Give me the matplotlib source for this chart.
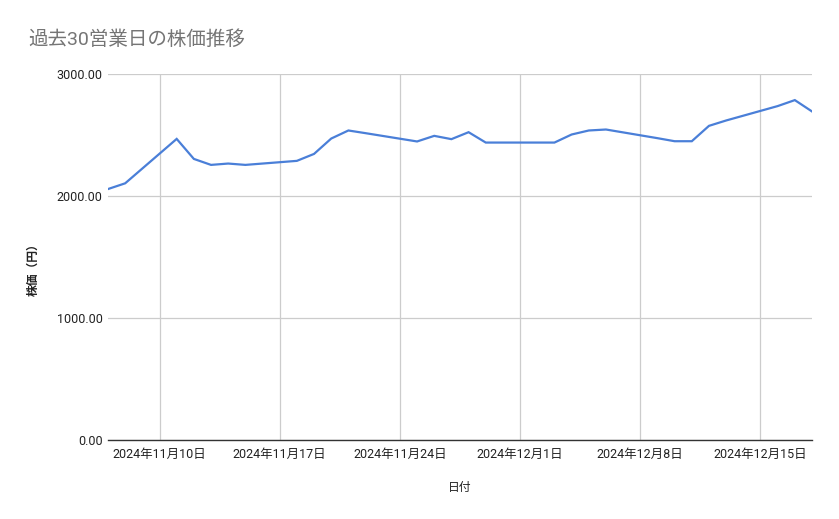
import matplotlib
matplotlib.use("Agg")
import matplotlib.pyplot as plt
import matplotlib.dates as mdates
from matplotlib.ticker import FuncFormatter, FixedLocator
import datetime as dt

plt.rcParams['font.family'] = ['Roboto', 'Noto Sans CJK JP', 'DejaVu Sans']

dates = ["2024-11-07", "2024-11-08", "2024-11-11", "2024-11-12", "2024-11-13",
         "2024-11-14", "2024-11-15", "2024-11-18", "2024-11-19", "2024-11-20",
         "2024-11-21", "2024-11-22", "2024-11-25", "2024-11-26", "2024-11-27",
         "2024-11-28", "2024-11-29", "2024-12-02", "2024-12-03", "2024-12-04",
         "2024-12-05", "2024-12-06", "2024-12-09", "2024-12-10", "2024-12-11",
         "2024-12-12", "2024-12-13", "2024-12-16", "2024-12-17", "2024-12-18"]
prices = [2057, 2104, 2468, 2304, 2255,
          2266, 2255, 2288, 2345, 2471,
          2537, 2515, 2447, 2493, 2466,
          2523, 2438, 2438, 2438, 2504,
          2537, 2545, 2474, 2449, 2449,
          2575, 2619, 2737, 2786, 2693]
x_ticks = ["2024-11-10", "2024-11-17", "2024-11-24", "2024-12-01", "2024-12-08", "2024-12-15"]
y_ticks = [0, 1000, 2000, 3000]

title = "過去30営業日の株価推移"
x_label = "日付"
y_label = "株価（円）"

xd = [dt.datetime.strptime(d, "%Y-%m-%d") for d in dates]
xt = [mdates.date2num(dt.datetime.strptime(d, "%Y-%m-%d")) for d in x_ticks]

fig = plt.figure(figsize=(8.39, 5.19), dpi=100)
ax = fig.add_axes([108/839, 1-440/519, (812-108)/839, (440-74)/519])

ax.plot(xd, prices, color='#4a7fd8', linewidth=1.6, solid_joinstyle='miter', zorder=3)
ax.set_xlim(xd[0], xd[-1])
ax.set_ylim(0, 3000)

ax.xaxis.set_major_locator(FixedLocator(xt))
def fmt(v, pos):
    d = mdates.num2date(v)
    return f"{d.year}年{d.month}月{d.day}日"
ax.xaxis.set_major_formatter(FuncFormatter(fmt))
ax.set_yticks(y_ticks)
ax.yaxis.set_major_formatter(FuncFormatter(lambda v, p: f"{v:.2f}"))

ax.grid(True, color='#cccccc', linewidth=0.9)
ax.set_axisbelow(True)
for s in ['top', 'right', 'left']:
    ax.spines[s].set_visible(False)
ax.spines['bottom'].set_color('#333333')
ax.spines['bottom'].set_linewidth(1.0)
ax.spines['bottom'].set_zorder(4)
ax.tick_params(axis='both', length=0, labelsize=9, labelcolor='#222222')
ax.tick_params(axis='x', pad=6)
ax.tick_params(axis='y', pad=4)

fig.text(28/839, 1-40/519, title, fontsize=14, color='#757575', va='center', ha='left')
fig.text(460/839, 1-487/519, x_label, fontsize=8.5, color='#222222', ha='center', va='center')
fig.text(33/839, 1-267/519, y_label, fontsize=8.5, color='#222222', ha='center', va='center',
         rotation=90, fontweight='bold')

fig.savefig("out.png", dpi=100)
